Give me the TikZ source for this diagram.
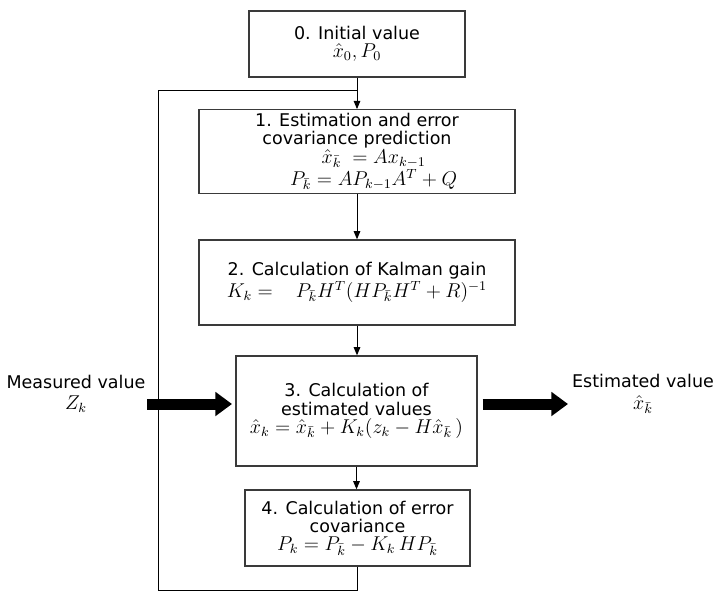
\documentclass[tikz,border=0pt]{standalone}
\usepackage{amsmath,amssymb}
\usepackage{fontspec}
\setmainfont{DejaVu Sans}
\DeclareMathSizes{10.5}{11.5}{8.5}{6.5}
\usepackage{tikz}
\usetikzlibrary{arrows.meta,positioning}
\usepackage{xcolor}
\definecolor{boxline}{HTML}{3A3A3A}

\tikzset{
  stepbox/.style={draw=boxline, line width=0.8pt, align=center, inner sep=2pt,
    font=\fontsize{10.5}{11}\selectfont},
  sidetext/.style={align=center, inner sep=1pt, font=\fontsize{10.5}{13}\selectfont},
  flow/.style={draw=black, line width=0.6pt, -{Triangle[length=5pt,width=4pt]}},
  loopline/.style={draw=black, line width=0.6pt},
  bigarrow/.style={draw=black, line width=6.6pt, -{Triangle[length=10pt,width=14pt]}}
}

\begin{document}
\begin{tikzpicture}[x=0.6pt, y=-0.6pt]
  \useasboundingbox (0,0) rectangle (714,592);

  % Filter steps
  \node[stepbox, minimum width=129.6pt, minimum height=39.6pt] (init) at (357,44)
    {0. Initial value\\ $\hat{x}_0, P_0$};
  \node[stepbox, minimum width=189.6pt, minimum height=48.6pt] (predict) at (357,151.5)
    {1. Estimation and error\\ covariance prediction\\
     \hspace*{20pt}$\hat{x}_{\bar{k}} \;= Ax_{k-1}$\\
     \hspace*{20pt}$P_{\bar{k}} = AP_{k-1}A^{T} + Q$};
  \node[stepbox, minimum width=189.6pt, minimum height=51pt] (gain) at (357,282.5)
    {2. Calculation of Kalman gain\\
     $K_k = \quad P_{\bar{k}}H^{T}(HP_{\bar{k}}H^{T} + R)^{-1}$};
  \node[stepbox, minimum width=144.6pt, minimum height=66pt] (update) at (356.5,411)
    {3. Calculation of\\ estimated values\\
     $\hat{x}_k = \hat{x}_{\bar{k}} + K_k(z_k - H\hat{x}_{\bar{k}}\,)$};
  \node[stepbox, minimum width=135pt, minimum height=45.6pt] (cov) at (357.5,528)
    {4. Calculation of error\\ covariance\\
     $P_k = P_{\bar{k}} - K_k\,HP_{\bar{k}}$};

  % Input and output
  \node[sidetext] (measured) at (76,394) {Measured value\\ $Z_k$};
  \node[sidetext] (estimated) at (643,394) {Estimated value\\ $\hat{x}_{\bar{k}}$};

  % Flow between steps
  \coordinate (loopin) at (357,90);
  \coordinate (corner) at (158,590);
  \draw[flow] (init.south) -- (predict.north);
  \draw[flow] (predict.south) -- (gain.north);
  \draw[flow] (gain.south) -- (gain.south |- update.north);
  \draw[flow] (update.south) -- (update.south |- cov.north);
  \draw[loopline] (cov.south) |- (corner) |- (loopin);

  % Thick arrows
  \coordinate (zin) at (147,404);
  \coordinate (xout) at (568,404);
  \draw[bigarrow, shorten >=2pt] (zin) -- (zin -| update.west);
  \draw[bigarrow, shorten <=3pt] (xout -| update.east) -- (xout);
\end{tikzpicture}
\end{document}
